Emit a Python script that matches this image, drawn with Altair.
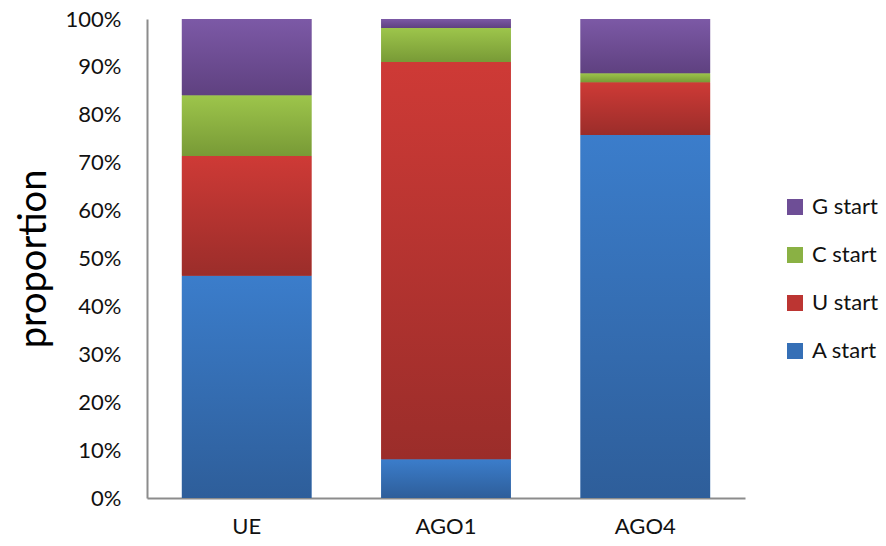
import altair as alt
import pandas as pd

groups = ["UE", "AGO1", "AGO4"]
series = ["A start", "U start", "C start", "G start"]
a_start = [46.4, 8.1, 75.8]
u_start = [25.0, 82.9, 11.0]
c_start = [12.7, 7.1, 1.9]
g_start = [15.9, 1.9, 11.3]

legend_order = ["G start", "C start", "U start", "A start"]
solid_colors = ["#6E4E96", "#8AB144", "#BC3532", "#356FB6"]
grad_top = {"A start": "#3B7DCB", "U start": "#CE3A36", "C start": "#9DC54B", "G start": "#7C59A6"}
grad_bot = {"A start": "#2E5E9A", "U start": "#9B2D2A", "C start": "#789A36", "G start": "#5F4180"}

rows = []
for i, g in enumerate(groups):
    for j, (s, vals) in enumerate(zip(series, [a_start, u_start, c_start, g_start])):
        rows.append({"group": g, "series": s, "order": j, "value": vals[i]})
df = pd.DataFrame(rows)

FONT = "Lato"

base = alt.Chart(df).transform_stack(
    stack="value", groupby=["group"], as_=["y0", "y1"],
    sort=[alt.SortField("order", order="ascending")], offset="normalize"
)

x_enc = alt.X("group:N", sort=groups, title=None,
              scale=alt.Scale(paddingInner=0.35, paddingOuter=0.175),
              axis=alt.Axis(labelAngle=0, ticks=False, labelFontSize=22, labelFont=FONT,
                            labelColor="#111111", labelPadding=18,
                            domainColor="#8c8c8c", domainWidth=2))
y_enc = alt.Y("y0:Q", title="proportion",
              scale=alt.Scale(domain=[0, 1], nice=False),
              axis=alt.Axis(format=".0%", values=[i / 10 for i in range(11)], ticks=False,
                            grid=False, labelFontSize=22, labelFont=FONT, labelColor="#111111",
                            labelPadding=26, titleFontSize=38, titleFont=FONT,
                            titleFontWeight="normal", titleColor="#000000", titlePadding=12,
                            domainColor="#8c8c8c", domainWidth=2))

legend_layer = base.mark_bar().encode(
    x=x_enc, y=y_enc, y2="y1:Q",
    color=alt.Color("series:N", scale=alt.Scale(domain=legend_order, range=solid_colors),
                    legend=alt.Legend(title=None, orient="none", legendX=637, legendY=177,
                                      symbolType="square", symbolSize=256, symbolStrokeWidth=0,
                                      labelFontSize=22, labelFont=FONT, labelColor="#111111",
                                      rowPadding=26, labelOffset=6, padding=0))
)

layers = [legend_layer]
for s in series:
    grad = {
        "gradient": "linear", "x1": 0, "x2": 0, "y1": 0, "y2": 1,
        "stops": [{"offset": 0, "color": grad_top[s]}, {"offset": 1, "color": grad_bot[s]}],
    }
    layers.append(
        base.transform_filter(alt.datum.series == s)
        .mark_bar(color=grad)
        .encode(x=x_enc, y=y_enc, y2="y1:Q")
    )

chart = alt.layer(*layers).properties(
    width=598, height=479,
    autosize=alt.AutoSizeParams(type="none"),
    padding={"left": 147, "top": 19, "right": 141, "bottom": 48},
    background="white",
).configure_view(strokeWidth=0, stroke="transparent")

chart.save("out.html", embed_options={"renderer": "svg", "actions": False})
